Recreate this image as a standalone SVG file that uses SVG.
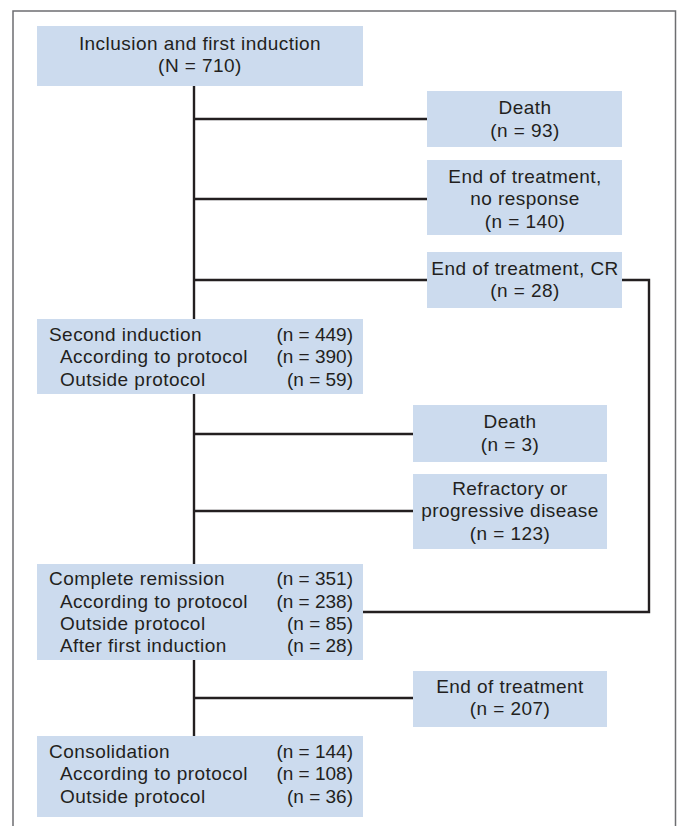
<svg xmlns="http://www.w3.org/2000/svg" width="681" height="826" viewBox="0 0 681 826">
<style>
.box{fill:#ccdbee}
.t{font-family:"Liberation Sans",Arial,sans-serif;font-size:19px;fill:#231f20;letter-spacing:0.45px}
.n{font-family:"Liberation Sans",Arial,sans-serif;font-size:19px;fill:#231f20;text-anchor:end}
.c{text-anchor:middle}
.ln{stroke:#231f20;stroke-width:2.4;fill:none}
</style>
<rect width="681" height="826" fill="#ffffff"/>
<path d="M13,826 V11 H675.5 V826" fill="none" stroke="#6d6e71" stroke-width="1.5"/>
<g id="connectors">
<path class="ln" d="M194,86 V319"/>
<path class="ln" d="M194,394 V564"/>
<path class="ln" d="M194,660 V736"/>
<path class="ln" d="M194,119 H427"/>
<path class="ln" d="M194,199 H427"/>
<path class="ln" d="M194,280 H427"/>
<path class="ln" d="M622,280 H649 V612 H363"/>
<path class="ln" d="M194,434 H413"/>
<path class="ln" d="M194,511 H413"/>
<path class="ln" d="M194,698 H413"/>
</g>
<g id="n1">
<rect class="box" x="37" y="26" width="326" height="60"/>
<text class="t c" x="200" y="50">Inclusion and first induction</text>
<text class="t c" x="200" y="72">(N = 710)</text>
</g>
<g id="n2">
<rect class="box" x="427" y="91" width="195" height="56"/>
<text class="t c" x="525" y="114">Death</text>
<text class="t c" x="525" y="137">(n = 93)</text>
</g>
<g id="n3">
<rect class="box" x="427" y="160" width="195" height="75"/>
<text class="t c" x="525" y="183">End of treatment,</text>
<text class="t c" x="525" y="205">no response</text>
<text class="t c" x="525" y="228">(n = 140)</text>
</g>
<g id="n4">
<rect class="box" x="427" y="252" width="195" height="56"/>
<text class="t c" x="525" y="275">End of treatment, CR</text>
<text class="t c" x="525" y="297">(n = 28)</text>
</g>
<g id="n5">
<rect class="box" x="37" y="319" width="326" height="75"/>
<text class="t" x="49" y="341">Second induction</text>
<text class="t" x="60" y="363">According to protocol</text>
<text class="t" x="60" y="386">Outside protocol</text>
<text class="n" x="353" y="341">(n = 449)</text>
<text class="n" x="353" y="363">(n = 390)</text>
<text class="n" x="353" y="386">(n = 59)</text>
</g>
<g id="n6">
<rect class="box" x="413" y="405" width="194" height="57"/>
<text class="t c" x="510" y="428">Death</text>
<text class="t c" x="510" y="451">(n = 3)</text>
</g>
<g id="n7">
<rect class="box" x="413" y="474" width="194" height="75"/>
<text class="t c" x="510" y="495">Refractory or</text>
<text class="t c" x="510" y="517">progressive disease</text>
<text class="t c" x="510" y="540">(n = 123)</text>
</g>
<g id="n8">
<rect class="box" x="37" y="564" width="326" height="96"/>
<text class="t" x="49" y="585">Complete remission</text>
<text class="t" x="60" y="608">According to protocol</text>
<text class="t" x="60" y="630">Outside protocol</text>
<text class="t" x="60" y="652">After first induction</text>
<text class="n" x="353" y="585">(n = 351)</text>
<text class="n" x="353" y="608">(n = 238)</text>
<text class="n" x="353" y="630">(n = 85)</text>
<text class="n" x="353" y="652">(n = 28)</text>
</g>
<g id="n9">
<rect class="box" x="413" y="671" width="194" height="56"/>
<text class="t c" x="510" y="693">End of treatment</text>
<text class="t c" x="510" y="715">(n = 207)</text>
</g>
<g id="n10">
<rect class="box" x="37" y="736" width="326" height="81"/>
<text class="t" x="49" y="758">Consolidation</text>
<text class="t" x="60" y="780">According to protocol</text>
<text class="t" x="60" y="803">Outside protocol</text>
<text class="n" x="353" y="758">(n = 144)</text>
<text class="n" x="353" y="780">(n = 108)</text>
<text class="n" x="353" y="803">(n = 36)</text>
</g>
</svg>
